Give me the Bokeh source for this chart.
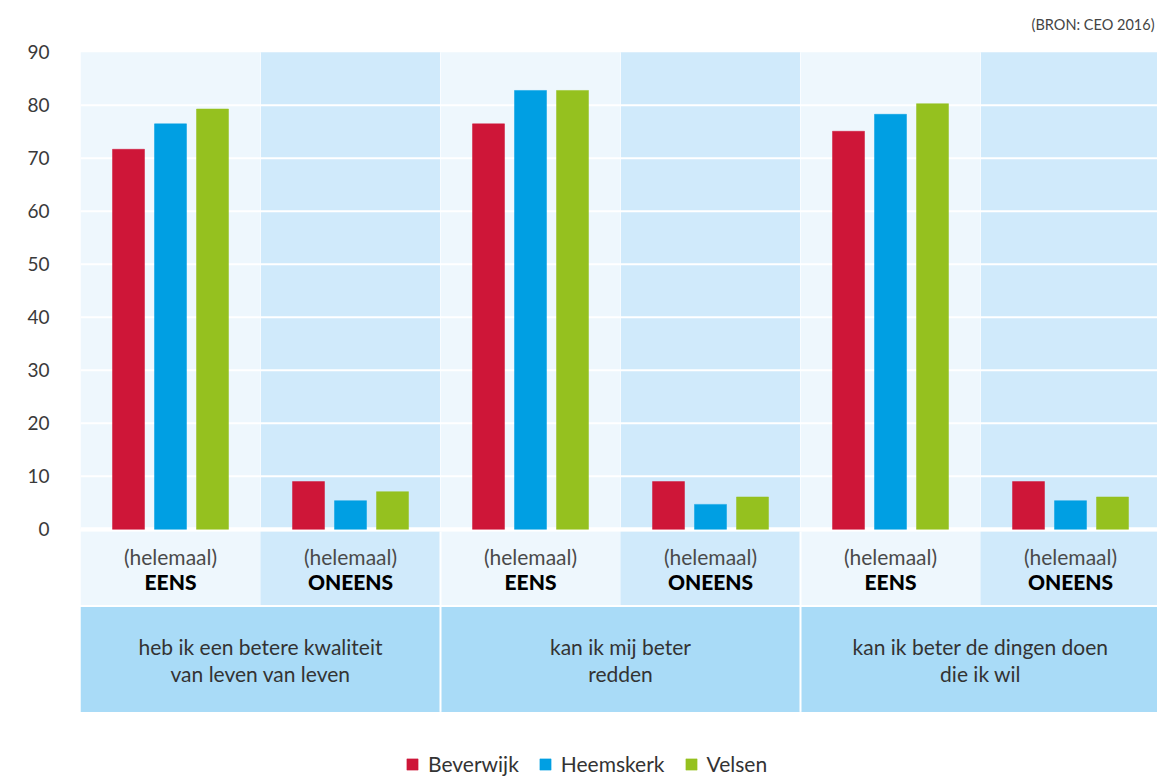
from bokeh.plotting import figure
from bokeh.models import Range1d, FixedTicker, Legend, LegendItem, ColumnDataSource, Label
from bokeh.core.properties import value
from bokeh.embed import file_html
from bokeh.resources import INLINE

# ---- data ----
groups = ["heb ik een betere kwaliteit\nvan leven van leven",
          "kan ik mij beter\nredden",
          "kan ik beter de dingen doen\ndie ik wil"]
answers = ["EENS", "ONEENS"]
answer_prefix = "(helemaal)"
series = ["Beverwijk", "Heemskerk", "Velsen"]
beverwijk = [71.7, 9.0, 76.5, 9.0, 75.1, 9.0]
heemskerk = [76.5, 5.4, 82.8, 4.7, 78.3, 5.4]
velsen = [79.3, 7.1, 82.8, 6.1, 80.3, 6.1]
y_ticks = [0, 10, 20, 30, 40, 50, 60, 70, 80, 90]
source_note = "(BRON: CEO 2016)"

# ---- styles ----
colors = ["#CE1638", "#009FE3", "#95C11F"]
panel_colors = ["#EEF7FD", "#D0EAFB"]
group_color = "#A9DBF7"
FONT = "Lato"

W, H = 1157, 776
LEFT = 80
PX = 180.0          # px per cell
PY = 5.3            # px per unit
ZERO = 528.8        # page y of value 0

n_cells = len(groups) * len(answers)
cells_x = [i + 0.5 for i in range(n_cells)]
cell_answers = [answers[i % len(answers)] for i in range(n_cells)]

p = figure(width=W, height=H,
           x_range=Range1d(0, (W - LEFT) / PX),
           y_range=Range1d((ZERO - H) / PY, ZERO / PY),
           output_backend="svg", toolbar_location=None, x_axis_location=None,
           min_border_left=LEFT, min_border_right=0, min_border_top=0, min_border_bottom=0)
p.outline_line_color = None
p.xgrid.visible = False
p.ygrid.visible = False

ax = p.yaxis[0]
ax.ticker = FixedTicker(ticks=y_ticks)
ax.axis_line_color = None
ax.major_tick_line_color = None
ax.minor_tick_line_color = None
ax.major_label_text_font = FONT
ax.major_label_text_font_size = "19px"
ax.major_label_text_color = "#3a3a3a"
ax.major_label_standoff = 25

# panel backgrounds (bar area)
p.quad(left=[i for i in range(n_cells)], right=[i + 1 for i in range(n_cells)],
       bottom=0, top=y_ticks[-1],
       fill_color=[panel_colors[i % 2] for i in range(n_cells)], line_color=None)
# answer label row
p.quad(left=[i for i in range(n_cells)], right=[i + 1 for i in range(n_cells)],
       bottom=-14.27, top=-0.42,
       fill_color=[panel_colors[i % 2] for i in range(n_cells)], line_color=None)
# group label row
p.quad(left=[2 * g for g in range(len(groups))], right=[2 * g + 2 for g in range(len(groups))],
       bottom=-34.45, top=-14.65, fill_color=group_color, line_color=None)

# grid lines
p.segment(x0=0, x1=n_cells, y0=y_ticks[1:-1], y1=y_ticks[1:-1], line_color="white", line_width=2)
p.segment(x0=0, x1=n_cells, y0=0, y1=0, line_color="white", line_width=4)
# separators
p.segment(x0=list(range(1, n_cells)), x1=list(range(1, n_cells)), y0=0, y1=y_ticks[-1],
          line_color="white", line_width=1, line_alpha=0.7)
p.segment(x0=[2 * g for g in range(1, len(groups))], x1=[2 * g for g in range(1, len(groups))],
          y0=-0.42, y1=-34.45, line_color="white", line_width=2)

# bars
bw = 32 / PX
off = 42 / PX
renderers = []
for k, (vals, col) in enumerate(zip([beverwijk, heemskerk, velsen], colors)):
    src = ColumnDataSource(dict(x=[c + (k - 1) * off for c in cells_x], top=vals))
    r = p.vbar(x="x", top="top", bottom=0, width=bw, source=src,
               fill_color=col, line_color=col, line_width=0.5)
    renderers.append(r)

# answer labels
p.text(x=cells_x, y=[-5.15] * n_cells, text=[answer_prefix] * n_cells,
       text_font=value(FONT), text_font_size="21px", text_color="#4a4a4a",
       text_align="center", text_baseline="middle")
p.text(x=cells_x, y=[-9.9] * n_cells, text=cell_answers,
       text_font=value("Lato Black, Lato"), text_font_size="21px", text_font_style="bold",
       text_color="#000000", text_align="center", text_baseline="middle")

# group labels
gx = [2 * g + 1 for g in range(len(groups))]
p.text(x=gx, y=[-22.1] * len(groups), text=[g.split("\n")[0] for g in groups],
       text_font=value(FONT), text_font_size="21px", text_color="#333333",
       text_align="center", text_baseline="middle")
p.text(x=gx, y=[-27.2] * len(groups), text=[g.split("\n")[1] for g in groups],
       text_font=value(FONT), text_font_size="21px", text_color="#333333",
       text_align="center", text_baseline="middle")

# source note
p.add_layout(Label(x=W - LEFT - 3, y=H - 24, x_units="screen", y_units="screen", text=source_note,
                   text_font=FONT, text_font_size="14.5px", text_color="#444444",
                   text_align="right", text_baseline="middle"))

legend = Legend(items=[LegendItem(label=s, renderers=[r]) for s, r in zip(series, renderers)],
                orientation="horizontal", location=(325, 0),
                background_fill_alpha=0, border_line_color=None,
                glyph_width=14, glyph_height=14, label_standoff=9, spacing=19,
                padding=0, margin=0,
                label_text_font=FONT, label_text_font_size="21px", label_text_color="#333333")
p.add_layout(legend)

open("out.html", "w").write(file_html(p, INLINE))
